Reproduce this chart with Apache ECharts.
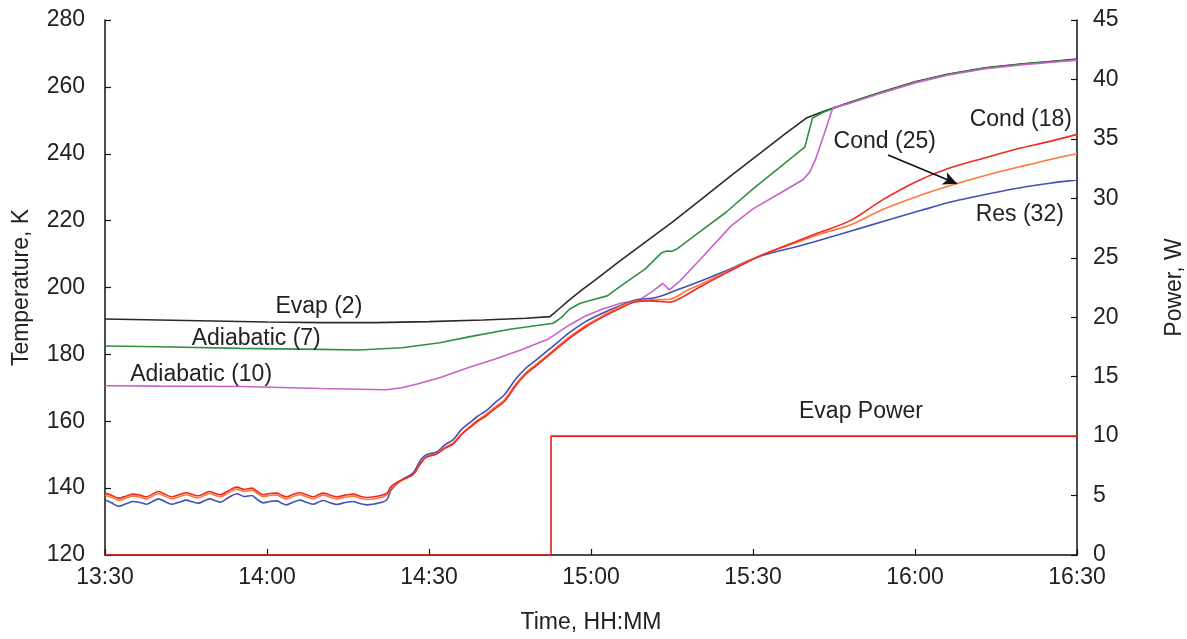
<!DOCTYPE html>
<html><head><meta charset="utf-8">
<script src="https://cdn.jsdelivr.net/npm/echarts@6/dist/echarts.min.js"></script>
<style>html,body{margin:0;padding:0;background:#fff}#c{width:1187px;height:639px}</style>
</head><body><div id="c"></div>
<script>
// x = minutes after 13:30
const timeTicks = ['13:30','14:00','14:30','15:00','15:30','16:00','16:30'];

const evap2 = [[0,190.6],[10,190.3],[20,190.0],[30,189.7],[40,189.5],[50,189.5],[60,189.8],[70,190.3],[78,190.8],[82.4,191.3],[84,193.5],[86,196.3],[88.5,199.5],[91,202.5],[95,207.5],[100,213.5],[105,219.5],[110,225.8],[116,233.5],[122,241],[126,246],[130,250.8],[133,252.6],[137.4,255.1],[143.5,258.3],[150,261.5],[156,263.8],[163,265.7],[170,266.9],[175,267.6],[180,268.3]];

const adiab7 = [[0,182.5],[10,182.3],[25,181.8],[40,181.5],[47,181.3],[55,182],[62,183.5],[67.6,185.3],[75,187.5],[83,189.3],[84.5,191],[86,193.5],[88,195.3],[90,196.2],[93,197.5],[96,201],[100,205.5],[103,210.3],[104,210.9],[105,210.8],[106,211.6],[110,216.5],[115,222.5],[120,229.5],[125,236],[129,241.2],[129.6,242],[131,250.6],[133,252.4],[137.4,255],[143.5,258.2],[150,261.4],[156,263.7],[163,265.6],[170,266.8],[175,267.5],[180,268.2]];

const adiab10 = [[0,170.6],[10,170.5],[25,170.4],[40,169.8],[52,169.4],[55,170],[58,171.2],[62,173],[67.6,176.2],[72,178.5],[77,181.3],[82,184.5],[86,188.8],[89,191.5],[92,193.5],[95.5,195.3],[99,196.3],[101.5,199],[103.3,201.2],[104.5,199.3],[106.5,202],[110,208],[116,218.5],[120,223.5],[125,228.2],[129.3,232.3],[130.5,234.5],[131.5,238],[133,245],[134.8,253.8],[137.4,254.8],[143.5,258],[150,261.2],[156,263.5],[163,265.4],[170,266.6],[175,267.3],[180,268]];

const cond18 = [[0,138.5],[1.2,137.9],[2.5,137.0],[3.9,137.6],[5.2,138.2],[6.5,137.9],[7.7,137.4],[8.8,138.2],[9.9,139.0],[11.1,138.2],[12.3,137.4],[13.7,138.0],[15.1,138.6],[16.2,138.1],[17.3,137.7],[18.4,138.4],[19.4,139.0],[20.3,138.5],[21.3,138.0],[22.9,139.3],[24.4,140.3],[25.8,139.6],[27.2,140.0],[28.2,139.0],[29.3,138.0],[30.5,138.4],[31.8,138.5],[32.7,137.9],[33.6,137.4],[34.8,138.1],[36.1,138.6],[37.3,138.0],[38.6,137.4],[39.5,138.0],[40.4,138.5],[41.7,137.9],[42.9,137.4],[44.5,137.9],[46,138.2],[47.2,137.6],[48.5,137.2],[50.9,137.7],[52.2,138.5],[53,140.5],[55,142.5],[57,144],[58.5,147.5],[59.5,149.3],[61.4,150.2],[63,152],[64.5,153.2],[66,156],[67.5,158],[69,160],[70.5,161.5],[72,163.5],[74,166],[76,170.5],[78,174.2],[80,176.8],[83,180.8],[86,184.8],[89,188.2],[92,191],[95,193.5],[98,195.6],[101,196],[104.6,195.6],[107,197.2],[110,200],[115,204.3],[121,209.2],[128.7,214.2],[132,216.3],[138,220],[144,226.2],[150,231.5],[156,235.5],[163,238.8],[169,241.5],[175,243.7],[180,245.8]];

const cond25 = [[0,137.9],[1.2,137.3],[2.5,136.4],[3.9,137.0],[5.2,137.6],[6.5,137.3],[7.7,136.8],[8.8,137.6],[9.9,138.4],[11.1,137.6],[12.3,136.8],[13.7,137.4],[15.1,138.0],[16.2,137.5],[17.3,137.1],[18.4,137.8],[19.4,138.4],[20.3,137.9],[21.3,137.4],[22.9,138.7],[24.4,139.7],[25.8,139.0],[27.2,139.4],[28.2,138.4],[29.3,137.4],[30.5,137.8],[31.8,137.9],[32.7,137.3],[33.6,136.8],[34.8,137.5],[36.1,138.0],[37.3,137.4],[38.6,136.8],[39.5,137.4],[40.4,137.9],[41.7,137.3],[42.9,136.8],[44.5,137.3],[46,137.6],[47.2,137.0],[48.5,136.6],[50.9,137.1],[52.2,138],[53,140],[55,142.3],[57,144],[58.5,147.5],[59.5,149.2],[61.4,150.3],[63,152.2],[64.5,153.5],[66,156.2],[67.5,158.3],[69,160.3],[70.5,162],[72,164],[74,166.5],[76,171],[78,174.6],[80,177.2],[83,181.2],[86,185.2],[89,188.6],[92,191.4],[95,194],[98,195.8],[101,196.3],[104.6,196.5],[108,199.3],[110,200.7],[115,204.6],[121,209.3],[128.7,213.8],[132,215.8],[138,218.7],[144,223.3],[150,227],[157,230.7],[163,233.5],[169.4,236.1],[175,238.3],[180,240]];

const res32 = [[0,136.5],[1.2,135.6],[2.5,134.6],[3.9,135.3],[5.2,136.0],[6.5,135.7],[7.7,135.2],[8.8,136.0],[9.9,136.8],[11.1,136.0],[12.3,135.2],[13.7,135.8],[15.1,136.4],[16.2,135.9],[17.3,135.5],[18.4,136.2],[19.4,136.8],[20.3,136.3],[21.3,135.8],[22.9,137.2],[24.4,138.3],[25.8,137.5],[27.2,137.8],[28.2,136.6],[29.3,135.6],[30.5,136.0],[31.8,136.2],[32.7,135.5],[33.6,135.0],[34.8,135.8],[36.1,136.4],[37.3,135.8],[38.6,135.2],[39.5,135.8],[40.4,136.3],[41.7,135.6],[42.9,135.1],[44.5,135.7],[46,136.0],[47.2,135.4],[48.5,135.0],[50.9,135.6],[52.2,136.5],[53,139.5],[55,142.5],[57,144.5],[58.5,148.5],[59.5,150],[61.4,150.8],[63,153],[64.5,154.5],[66,157.5],[67.5,159.5],[69,161.5],[70.5,163],[72,165.2],[74,168],[76,172.5],[78,176],[80,178.5],[83,182.5],[86,186.5],[89,189.8],[92,192.2],[95,194.3],[98.4,196.3],[102,197],[106,199.3],[110,201.7],[115,205],[121,209.2],[128.7,212.5],[132,214],[138,216.8],[145,220.2],[151,223],[157,225.7],[163,227.8],[169,229.7],[175,231.2],[180,232.2]];

const evapPower = [[0,0],[82.6,0],[82.6,10],[180,10]];

const labels = [
  {text:'Evap (2)', at:[39.6,194.4]},
  {text:'Adiabatic (7)', at:[28.0,184.8]},
  {text:'Adiabatic (10)', at:[17.8,173.9]},
  {text:'Cond (25)', at:[144.4,243.6]},
  {text:'Cond (18)', at:[169.6,250.2]},
  {text:'Res (32)', at:[169.4,221.7]},
  {text:'Evap Power', at:[140,162.8]}
];
const arrow = [[145,239.6],[157.8,231]];

const FONT = 'Liberation Sans, Arial, sans-serif';
const FS = 23;
const TXT = '#222';
function fmt(v){ const m = 13*60+30+v; const h=Math.floor(m/60), mm=m%60; return h+':'+(mm<10?'0':'')+mm; }
const axisCommon = {
  axisLine:{show:true,lineStyle:{color:'#111',width:1.5}},
  axisTick:{show:true,inside:true,length:6,lineStyle:{color:'#111',width:1.2}},
  splitLine:{show:false},
  axisLabel:{color:TXT,fontSize:FS,fontFamily:FONT},
  nameTextStyle:{color:TXT,fontSize:FS,fontFamily:FONT}
};
function line(name,data,color,yi,smooth){
  return {name,type:'line',data,yAxisIndex:yi||0,showSymbol:false,smooth:smooth||false,
    lineStyle:{color,width:1.6},itemStyle:{color},z:3,silent:true,animation:false};
}
const chart = echarts.init(document.getElementById('c'));
const series = [
  line('Evap (2)',evap2,'#2a2a2a'),
  line('Adiabatic (7)',adiab7,'#2f9140'),
  line('Adiabatic (10)',adiab10,'#c763c7'),
  line('Res (32)',res32,'#4450b4',0,0.3),
  line('Cond (25)',cond25,'#ff7a3a',0,0.3),
  line('Cond (18)',cond18,'#ee2a22',0,0.3),
  line('Evap Power',evapPower,'#ee1c1c',1)
];
series[4].markLine = {silent:true,symbol:['none','arrow'],symbolSize:[10,14],animation:false,
  label:{show:false},lineStyle:{color:'#111',width:1.6,type:'solid'},
  data:[[{coord:arrow[0]},{coord:arrow[1]}]]};
chart.setOption({
  animation:false,
  backgroundColor:'#fff',
  grid:{left:105,right:110,top:20,bottom:84,containLabel:false,outerBoundsMode:'none'},
  xAxis:Object.assign({},axisCommon,{type:'value',min:0,max:180,interval:30,
    axisLabel:Object.assign({},axisCommon.axisLabel,{formatter:fmt,margin:11}),
    name:'Time, HH:MM',nameLocation:'middle',nameGap:56}),
  yAxis:[
    Object.assign({},axisCommon,{type:'value',min:120,max:280,interval:20,position:'left',
      axisLabel:Object.assign({},axisCommon.axisLabel,{margin:20}),
      name:'Temperature, K',nameLocation:'middle',nameRotate:90,nameGap:72}),
    Object.assign({},axisCommon,{type:'value',min:0,max:45,interval:5,position:'right',
      axisLabel:Object.assign({},axisCommon.axisLabel,{margin:16}),
      name:'Power, W',nameLocation:'middle',nameRotate:90,nameGap:86})
  ],
  series
});
const g = labels.map(l=>{
  const p = chart.convertToPixel({xAxisIndex:0,yAxisIndex:0}, l.at);
  return {type:'text',x:p[0],y:p[1],style:{text:l.text,fill:TXT,font:FS+'px '+FONT,align:'center',verticalAlign:'middle'},z:10};
});
chart.setOption({graphic:g});
</script></body></html>
